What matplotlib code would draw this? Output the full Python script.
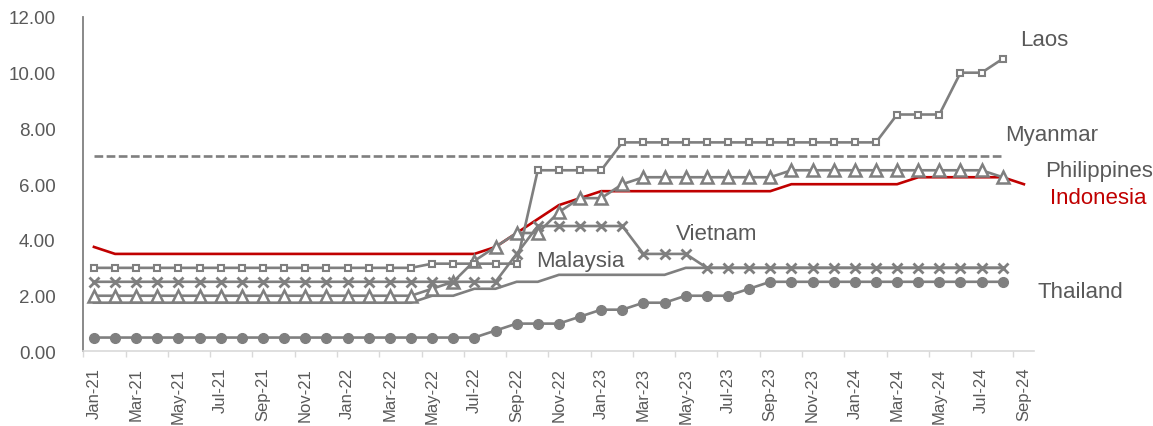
import numpy as np
import matplotlib
matplotlib.use("Agg")
import matplotlib.pyplot as plt

plt.rcParams['font.family'] = ['Liberation Sans', 'DejaVu Sans']

months = ["Jan-21", "Feb-21", "Mar-21", "Apr-21", "May-21", "Jun-21", "Jul-21", "Aug-21", "Sep-21",
          "Oct-21", "Nov-21", "Dec-21", "Jan-22", "Feb-22", "Mar-22", "Apr-22", "May-22", "Jun-22",
          "Jul-22", "Aug-22", "Sep-22", "Oct-22", "Nov-22", "Dec-22", "Jan-23", "Feb-23", "Mar-23",
          "Apr-23", "May-23", "Jun-23", "Jul-23", "Aug-23", "Sep-23", "Oct-23", "Nov-23", "Dec-23",
          "Jan-24", "Feb-24", "Mar-24", "Apr-24", "May-24", "Jun-24", "Jul-24", "Aug-24", "Sep-24"]

nan = np.nan
indonesia = [3.75] + [3.5] * 18 + [3.75, 4.25, 4.75, 5.25, 5.5] + [5.75] * 9 + [6.0] * 6 + [6.25] * 5 + [6.0]
laos = [3.0] * 16 + [3.15] * 5 + [6.5] * 4 + [7.5] * 13 + [8.5] * 3 + [10.0] * 2 + [10.5] + [nan]
myanmar = [7.0] * 44 + [nan]
philippines = [2.0] * 16 + [2.25, 2.5, 3.25, 3.75, 4.25, 4.25, 5.0, 5.5, 5.5, 6.0] + [6.25] * 7 + [6.5] * 10 + [6.25] + [nan]
vietnam = [2.5] * 20 + [3.5] + [4.5] * 5 + [3.5] * 3 + [3.0] * 15 + [nan]
malaysia = [1.75] * 16 + [2.0] * 2 + [2.25] * 2 + [2.5] * 2 + [2.75] * 6 + [3.0] * 16 + [nan]
thailand = [0.5] * 19 + [0.75] + [1.0] * 3 + [1.25] + [1.5] * 2 + [1.75] * 2 + [2.0] * 3 + [2.25] + [2.5] * 12 + [nan]

yticks = [0, 2, 4, 6, 8, 10, 12]

GRAY = "#7f7f7f"
RED = "#c00000"
TXT = "#595959"

fig = plt.figure(figsize=(11.53, 4.27), dpi=100)
ax = fig.add_axes([0.0723, 0.1745, 0.8249, 0.7835])
x = np.arange(len(months))
lw = 1.9

ax.plot(x, indonesia, color=RED, lw=lw, zorder=2)
ax.plot(x, malaysia, color=GRAY, lw=lw, zorder=3)
ax.plot(x, myanmar, color=GRAY, lw=lw, ls=(0, (3.3, 1.3)), zorder=3)
ax.plot(x, thailand, color=GRAY, lw=lw, marker='o', ms=7, mfc=GRAY, mec=GRAY, zorder=4)
ax.plot(x, philippines, color=GRAY, lw=lw, marker='^', ms=8, mfc='white', mec=GRAY, mew=1.8, zorder=4)
ax.plot(x, vietnam, color=GRAY, lw=lw, marker='x', ms=7.5, mec=GRAY, mew=2.0, zorder=4)
ax.plot(x, laos, color=GRAY, lw=lw, marker='s', ms=4.8, mfc='white', mec=GRAY, mew=1.5, zorder=5)

ax.set_xlim(-0.5, len(months) - 0.5)
ax.set_ylim(0, 12)
ax.set_yticks(yticks)
ax.set_yticklabels([f"{v:.2f}" for v in yticks])
ax.set_xticks(x[::2])
ax.set_xticklabels(months[::2], rotation=90)
ax.set_xticks(np.arange(-0.5, len(months) - 0.5, 2), minor=True)

ax.tick_params(axis='y', length=0, pad=20, labelsize=13.5, labelcolor=TXT)
ax.tick_params(axis='x', which='major', length=0, pad=11, labelsize=12, labelcolor=TXT)
ax.tick_params(axis='x', which='minor', length=4, width=1, color="#d9d9d9")

for s in ['top', 'right']:
    ax.spines[s].set_visible(False)
ax.spines['left'].set_color("#808080")
ax.spines['left'].set_linewidth(1.3)
ax.spines['bottom'].set_color("#d9d9d9")
ax.spines['bottom'].set_linewidth(1.2)

def label(px, py, text, color=TXT):
    fig.text(px / 1153, 1 - py / 427, text, fontsize=16, color=color, ha='left', va='center')

label(1020, 40, "Laos")
label(1005, 135, "Myanmar")
label(1045, 172, "Philippines")
label(1050, 199, "Indonesia", RED)
label(676, 234, "Vietnam")
label(536, 262, "Malaysia")
label(1038, 293, "Thailand")

fig.savefig("out.png", dpi=100)
